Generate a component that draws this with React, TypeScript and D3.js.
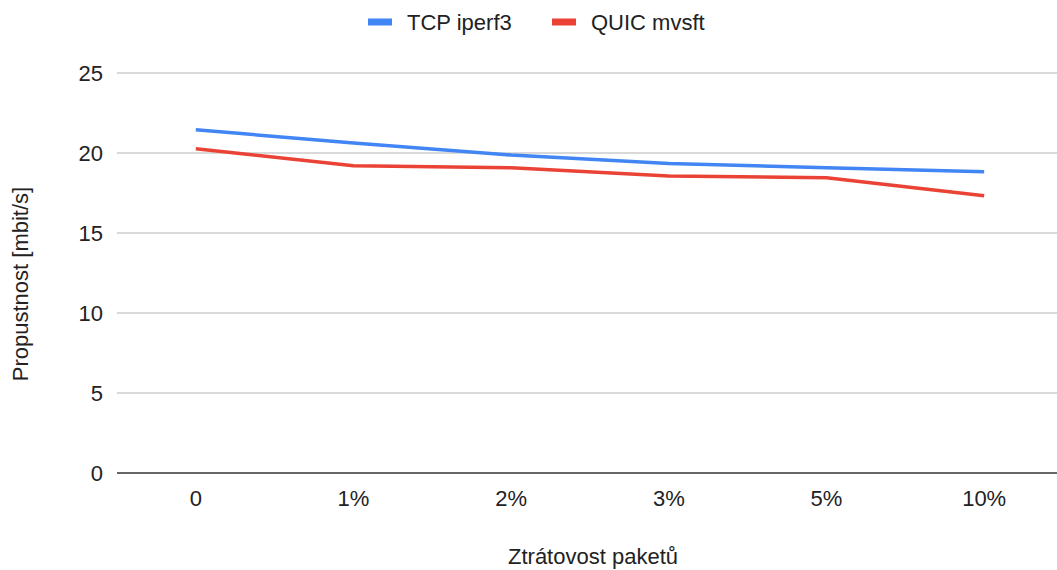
import * as d3 from "d3";
import React, { useEffect, useRef } from "react";

const categories: string[] = ["0", "1%", "2%", "3%", "5%", "10%"];
const tcpValues: number[] = [21.45, 20.63, 19.87, 19.35, 19.08, 18.83];
const quicValues: number[] = [20.27, 19.2, 19.08, 18.56, 18.46, 17.33];
const yTicks: number[] = [0, 5, 10, 15, 20, 25];
const seriesNames: string[] = ["TCP iperf3", "QUIC mvsft"];
const seriesColors: string[] = ["#4285f4", "#ea4335"];

const W = 1057;
const H = 570;
const FONT = "Liberation Sans, Arial, sans-serif";
const FS = "22px";

export default function App() {
    const ref = useRef<SVGSVGElement>(null);

    useEffect(() => {
        const svg = d3.select(ref.current!);
        svg.selectAll("*").remove();

        const margin = { top: 73, right: -6, bottom: 97, left: 117 };
        const x = d3.scaleBand<string>().domain(categories).range([margin.left, W - margin.right]);
        const y = d3.scaleLinear().domain([0, 25]).range([H - margin.bottom, margin.top]);

        // gridlines
        svg.append("g")
            .selectAll("line")
            .data(yTicks)
            .enter()
            .append("line")
            .attr("x1", margin.left)
            .attr("x2", W)
            .attr("y1", d => y(d))
            .attr("y2", d => y(d))
            .attr("stroke", d => d === 0 ? "#333" : "#cccccc")
            .attr("stroke-width", d => d === 0 ? 1.5 : 1.3);

        // y tick labels
        svg.append("g")
            .selectAll("text")
            .data(yTicks)
            .enter()
            .append("text")
            .attr("x", 103)
            .attr("y", d => y(d))
            .attr("dy", "0.35em")
            .attr("text-anchor", "end")
            .style("font-family", FONT)
            .style("font-size", FS)
            .attr("fill", "#222")
            .text(d => d);

        // x tick labels
        svg.append("g")
            .selectAll("text")
            .data(categories)
            .enter()
            .append("text")
            .attr("x", d => x(d)! + x.bandwidth() / 2)
            .attr("y", 498)
            .attr("dy", "0.35em")
            .attr("text-anchor", "middle")
            .style("font-family", FONT)
            .style("font-size", FS)
            .attr("fill", "#222")
            .text(d => d);

        // axis titles
        svg.append("text")
            .attr("x", 593)
            .attr("y", 556)
            .attr("dy", "0.35em")
            .attr("text-anchor", "middle")
            .style("font-family", FONT)
            .style("font-size", FS)
            .attr("fill", "#222")
            .text("Ztrátovost paketů");

        svg.append("text")
            .attr("transform", "translate(20,284) rotate(-90)")
            .attr("dy", "0.35em")
            .attr("text-anchor", "middle")
            .style("font-family", FONT)
            .style("font-size", FS)
            .attr("fill", "#222")
            .text("Propustnost [mbit/s]");

        // lines
        const line = d3.line<number>()
            .x((_, i) => x(categories[i])! + x.bandwidth() / 2)
            .y(d => y(d));

        [tcpValues, quicValues].forEach((vals, i) => {
            svg.append("path")
                .datum(vals)
                .attr("d", line)
                .attr("fill", "none")
                .attr("stroke", seriesColors[i])
                .attr("stroke-width", 3.5)
                .attr("stroke-linejoin", "round");
        });

        // legend
        const legendX = [368, 552];
        seriesNames.forEach((name, i) => {
            const g = svg.append("g").attr("transform", `translate(${legendX[i]},22)`);
            g.append("rect")
                .attr("x", 0)
                .attr("y", -3.5)
                .attr("width", 24)
                .attr("height", 7)
                .attr("fill", seriesColors[i]);
            g.append("text")
                .attr("x", 39)
                .attr("y", 0)
                .attr("dy", "0.35em")
                .style("font-family", FONT)
                .style("font-size", FS)
                .attr("fill", "#222")
                .text(name);
        });
    }, []);

    return (
        <svg ref={ref} width={W} height={H}
            style={{ position: "absolute", left: 0, top: 0, background: "#fff" }} />
    );
}
